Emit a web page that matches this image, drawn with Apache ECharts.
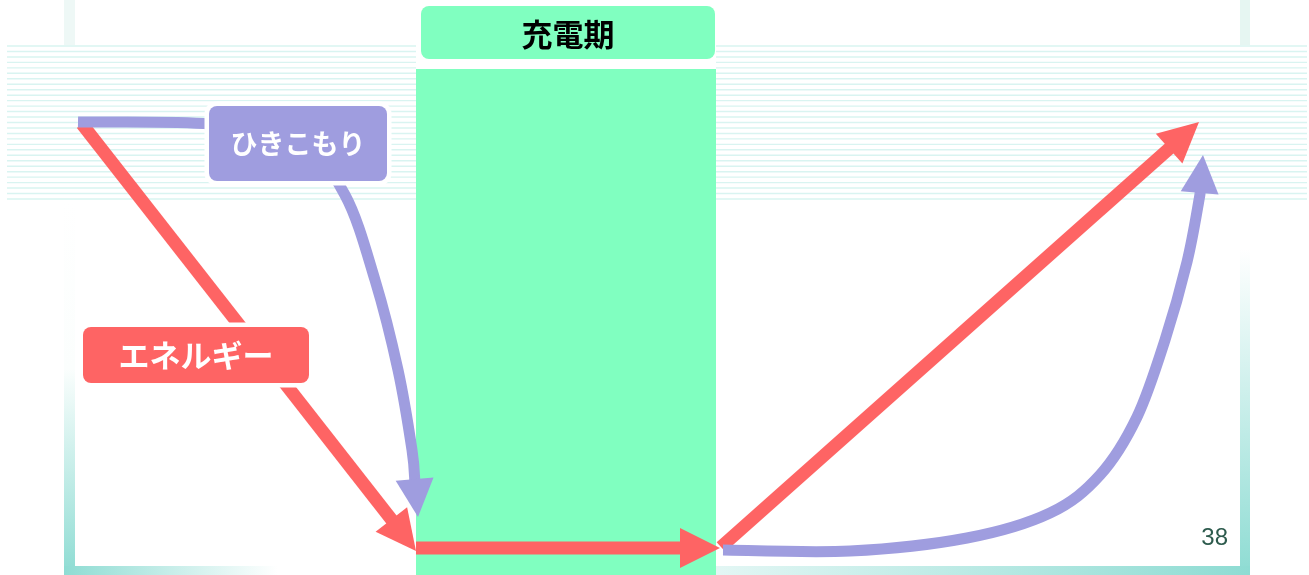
<!DOCTYPE html>
<html>
<head>
<meta charset="utf-8">
<script src="https://cdn.jsdelivr.net/npm/echarts@6/dist/echarts.min.js"></script>
<style>
html,body{margin:0;padding:0;background:#fff;}
#chart{width:1309px;height:575px;}
</style>
</head>
<body>
<div id="chart"></div>
<script>
// ---- data (diagram coordinates: x 0..1309, y 0..575 top-down) ----
const xRange = [0, 1309];
const yRange = [0, 575];
const phaseName = '充電期';
const phaseRange = [416, 716];          // x extent of the charging period band
const phaseBandTop = [69, 575];         // y extent of the band
const energyName = 'エネルギー';
const withdrawName = 'ひきこもり';
const pageNumber = '38';

const energyDown = [[82, 124], [416, 551]];
const energyFlat = [[416, 548], [720, 548]];
const energyUp   = [[721, 547], [1199, 122]];

const withdrawDown = [[78, 122], [210, 124], [300, 142], [345, 195], [375, 280],
  [398, 370], [412, 450], [418, 517]];
const withdrawUp = [[723, 550], [850, 551], [967, 538], [1050, 513], [1100, 475],
  [1137, 417], [1165, 340], [1187, 262], [1199, 200], [1203, 155]];

// ---- styling / layout ----
const RED = '#fe6464';
const PURPLE = '#9f9ddf';
const GREEN = '#80ffc0';
const TEAL = '#8edcd3';
const CJK = '"Noto Sans CJK JP","Noto Sans CJK SC",sans-serif';

const labelBoxes = {
  withdraw: {x0: 209, y0: 106, x1: 387, y1: 181, fill: PURPLE, text: withdrawName, color: '#fff', halo: true, size: 27},
  energy:   {x0: 83,  y0: 327, x1: 309, y1: 383, fill: RED,    text: energyName,   color: '#fff', halo: true, size: 31},
  phase:    {x0: 421, y0: 6,   x1: 715, y1: 59,  fill: GREEN,  text: phaseName,    color: '#000', halo: false, size: 31, dy: 1.5}
};

// Catmull-Rom through the anchor points, written as an SVG path for the renderer
function smoothPath(p) {
  let d = 'M' + p[0][0] + ',' + p[0][1];
  for (let i = 0; i < p.length - 1; i++) {
    const p0 = p[i - 1] || p[i], p1 = p[i], p2 = p[i + 1], p3 = p[i + 2] || p[i + 1];
    const c1 = [p1[0] + (p2[0] - p0[0]) / 6, p1[1] + (p2[1] - p0[1]) / 6];
    const c2 = [p2[0] - (p3[0] - p1[0]) / 6, p2[1] - (p3[1] - p1[1]) / 6];
    d += 'C' + c1[0] + ',' + c1[1] + ' ' + c2[0] + ',' + c2[1] + ' ' + p2[0] + ',' + p2[1];
  }
  return d;
}

function arrowSeries(name, pts, color, width, headLen, headHalf, smooth, z) {
  return {
    type: 'custom', name: name, coordinateSystem: 'cartesian2d', z: z, clip: false,
    silent: true, animation: false,
    data: pts, encode: {x: 0, y: 1},
    renderItem: function (params, api) {
      if (params.dataIndex !== pts.length - 1) return null;
      const c = pts.map(function (p) { return api.coord(p); });
      const tip = c[c.length - 1];
      const prev = c[c.length - 2];
      const dx = tip[0] - prev[0], dy = tip[1] - prev[1];
      const len = Math.hypot(dx, dy);
      const ux = dx / len, uy = dy / len;
      const bx = tip[0] - ux * headLen, by = tip[1] - uy * headLen;
      const shaft = c.slice(0, -1).filter(function (p) {
        return Math.hypot(p[0] - tip[0], p[1] - tip[1]) > headLen + 3;
      });
      shaft.push([bx + ux * 3, by + uy * 3]);
      const shaftEl = smooth
        ? {type: 'path', shape: {pathData: smoothPath(shaft)},
           style: {stroke: color, lineWidth: width, fill: null, lineCap: 'butt', lineJoin: 'round'}}
        : {type: 'polyline', shape: {points: shaft},
           style: {stroke: color, lineWidth: width, fill: null, lineCap: 'butt', lineJoin: 'round'}};
      const headEl = {
        type: 'polygon',
        shape: {points: [tip, [bx - uy * headHalf, by + ux * headHalf], [bx + uy * headHalf, by - ux * headHalf]]},
        style: {fill: color}
      };
      return {type: 'group', children: [shaftEl, headEl]};
    }
  };
}

const bandSeries = {
  type: 'custom', name: phaseName, coordinateSystem: 'cartesian2d', z: 5, clip: false,
  silent: true, animation: false,
  data: [[phaseRange[0], phaseBandTop[0], phaseRange[1], phaseBandTop[1]]],
  renderItem: function (params, api) {
    const p0 = api.coord([api.value(0), api.value(1)]);
    const p1 = api.coord([api.value(2), api.value(3)]);
    const top = api.coord([api.value(0), 0]);
    return {type: 'group', children: [
      {type: 'rect', shape: {x: p0[0], y: top[1], width: p1[0] - p0[0], height: p0[1] - top[1]}, style: {fill: '#fff'}},
      {type: 'rect', shape: {x: p0[0], y: p0[1], width: p1[0] - p0[0], height: p1[1] - p0[1]}, style: {fill: GREEN}}
    ]};
  }
};

const labelKeys = Object.keys(labelBoxes);
const labelSeries = {
  type: 'custom', name: 'labels', coordinateSystem: 'cartesian2d', z: 10, clip: false,
  silent: true, animation: false,
  data: labelKeys.map(function (k, i) { return [i, 0]; }),
  renderItem: function (params, api) {
    const b = labelBoxes[labelKeys[params.dataIndex]];
    const a = api.coord([b.x0, b.y0]);
    const c = api.coord([b.x1, b.y1]);
    const children = [];
    if (b.halo) {
      children.push({type: 'rect', shape: {x: a[0] - 4.5, y: a[1] - 4.5, width: c[0] - a[0] + 9, height: c[1] - a[1] + 9, r: 12},
        style: {fill: '#fff'}});
    }
    children.push({type: 'rect', shape: {x: a[0], y: a[1], width: c[0] - a[0], height: c[1] - a[1], r: 8},
      style: {fill: b.fill}});
    children.push({type: 'text', style: {
      text: b.text, x: (a[0] + c[0]) / 2, y: (a[1] + c[1]) / 2 + (b.dy || 0),
      fill: b.color, font: 'bold ' + b.size + 'px ' + CJK, align: 'center', verticalAlign: 'middle'
    }});
    return {type: 'group', children: children};
  }
};

// ---- decoration (page frame and stripes) ----
const deco = [];
deco.push({type: 'rect', z: 0, shape: {x: 64, y: 0, width: 11, height: 46}, style: {fill: '#eef8f6'}});
deco.push({type: 'rect', z: 0, shape: {x: 1240, y: 0, width: 10, height: 46}, style: {fill: '#e6f6f2'}});
deco.push({type: 'rect', z: 0, shape: {x: 64, y: 200, width: 11, height: 375},
  style: {fill: new echarts.graphic.LinearGradient(0, 0, 0, 1, [
    {offset: 0, color: '#ffffff'}, {offset: 0.45, color: '#fbfefd'}, {offset: 1, color: TEAL}])}});
deco.push({type: 'rect', z: 0, shape: {x: 1240, y: 200, width: 10, height: 375},
  style: {fill: new echarts.graphic.LinearGradient(0, 0, 0, 1, [
    {offset: 0, color: '#ffffff'}, {offset: 0.13, color: '#ffffff'}, {offset: 1, color: TEAL}])}});
deco.push({type: 'rect', z: 0, shape: {x: 64, y: 566, width: 1186, height: 9},
  style: {fill: new echarts.graphic.LinearGradient(0, 0, 1, 0, [
    {offset: 0, color: TEAL}, {offset: 0.18, color: '#ffffff'}, {offset: 0.4, color: '#ffffff'},
    {offset: 1, color: TEAL}])}});
deco.push({type: 'rect', z: 1, shape: {x: 0, y: 45, width: 1309, height: 156}, style: {fill: '#ffffff'}});
for (let i = 0; i <= 28; i++) {
  const y = 46 + i * 153 / 28;
  deco.push({type: 'line', z: 2, shape: {x1: 7, y1: y, x2: 1307, y2: y}, style: {stroke: '#d9f4f1', lineWidth: 1.4}});
}
deco.push({type: 'text', z: 3, style: {text: pageNumber, x: 1228, y: 538, fill: '#2d5b4d',
  font: '24px "Liberation Sans", Arial, sans-serif', align: 'right', verticalAlign: 'middle'}});

const chart = echarts.init(document.getElementById('chart'));
chart.setOption({
  animation: false,
  backgroundColor: '#ffffff',
  grid: {left: 0, right: 0, top: 0, bottom: 0},
  xAxis: {type: 'value', min: xRange[0], max: xRange[1], show: false},
  yAxis: {type: 'value', min: yRange[0], max: yRange[1], inverse: true, show: false},
  graphic: {elements: deco},
  series: [
    bandSeries,
    arrowSeries('energyDown', energyDown, RED, 13, 40, 20, false, 6),
    arrowSeries('energyFlat', energyFlat, RED, 13, 40, 20, false, 6),
    arrowSeries('energyUp', energyUp, RED, 13, 40, 20, false, 6),
    arrowSeries('withdrawDown', withdrawDown, PURPLE, 11, 38, 19, true, 7),
    arrowSeries('withdrawUp', withdrawUp, PURPLE, 11, 38, 19, true, 7),
    labelSeries
  ]
});
</script>
</body>
</html>
